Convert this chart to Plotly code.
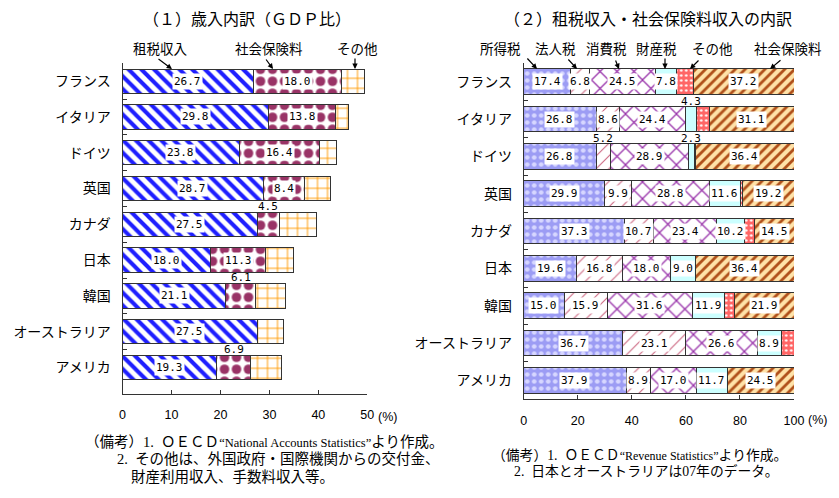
import plotly.graph_objects as go

# ---------------- data ----------------
countries = ["フランス", "イタリア", "ドイツ", "英国", "カナダ", "日本", "韓国", "オーストラリア", "アメリカ"]

# (1) 歳入内訳（GDP比, %）
rev_tax = [26.7, 29.8, 23.8, 28.7, 27.5, 18.0, 21.1, 27.5, 19.3]
rev_social = [18.0, 13.8, 16.4, 8.4, 4.5, 11.3, 6.1, 0.0, 6.9]
rev_other = [4.8, 2.5, 3.6, 5.3, 7.7, 5.6, 6.1, 5.4, 6.3]

# (2) 租税収入・社会保険料収入の内訳（構成比, %）
income_tax = [17.4, 26.8, 26.8, 29.9, 37.3, 19.6, 15.0, 36.7, 37.9]
corp_tax = [6.8, 8.6, 5.2, 9.9, 10.7, 16.8, 15.9, 23.1, 8.9]
consumption_tax = [24.5, 24.4, 28.9, 28.8, 23.4, 18.0, 31.6, 26.6, 17.0]
property_tax = [7.8, 4.3, 2.3, 11.6, 10.2, 9.0, 11.9, 8.9, 11.7]
other_tax = [6.3, 4.8, 0.4, 0.6, 3.9, 0.2, 3.7, 4.7, 0.0]
social_contrib = [37.2, 31.1, 36.4, 19.2, 14.5, 36.4, 21.9, 0.0, 24.5]

left_ticks = [0, 10, 20, 30, 40, 50]
right_ticks = [0, 20, 40, 60, 80, 100]

W, H = 839, 498
def px(x):
    return x / W
def py(y):
    return 1 - y / H

JP = "Noto Sans CJK JP"
NUM = "DejaVu Sans Mono"
EDGE = dict(color="#333333", width=1)

fig = go.Figure()

left_series = [
    ("租税収入", rev_tax, dict(shape="\\", fgcolor="#1f1fff", bgcolor="white", size=9, solidity=0.45), True),
    ("社会保険料", rev_social, dict(shape=".", fgcolor="#993366", bgcolor="white", size=12, solidity=0.5), True),
    ("その他", rev_other, dict(shape="+", fgcolor="#ff9900", bgcolor="white", size=10, solidity=0.18), False),
]
right_series = [
    ("所得税", income_tax, dict(shape=".", fgcolor="#d6d6ff", bgcolor="#9c9cf4", size=7, solidity=0.35), True),
    ("法人税", corp_tax, dict(shape="/", fgcolor="#cc6680", bgcolor="white", size=9, solidity=0.12), True),
    ("消費税", consumption_tax, dict(shape="x", fgcolor="#9933aa", bgcolor="white", size=12, solidity=0.2), True),
    ("財産税", property_tax, dict(shape="", fgcolor="#ccffff", bgcolor="#ccffff"), True),
    ("その他", other_tax, dict(shape=".", fgcolor="#ffffff", bgcolor="#ff6666", size=5, solidity=0.2), False),
    ("社会保険料", social_contrib, dict(shape="/", fgcolor="#b0501a", bgcolor="#ffe2a8", size=7, solidity=0.4), True),
]

annotations = []

def add_panel(series, xa, ya, bar_w, inside_min):
    cum = [0.0] * len(countries)
    for name, vals, pat, labelled in series:
        color = pat["bgcolor"]
        pattern = dict(pat)
        pattern["fillmode"] = "replace"
        fig.add_trace(go.Bar(
            name=name, x=vals, y=countries, orientation="h",
            xaxis=xa, yaxis=ya, width=bar_w,
            marker=dict(color=color, pattern=pattern, line=EDGE),
            showlegend=False, hoverinfo="x+y+name",
        ))
        for i, v in enumerate(vals):
            if labelled and v > 0:
                mid = cum[i] + v / 2
                if v >= inside_min:
                    annotations.append(dict(
                        x=mid, y=countries[i], xref=xa, yref=ya, text=f"{v:.1f}",
                        xanchor="center", yanchor="middle",
                        showarrow=False, bgcolor="white", borderpad=1,
                        font=dict(family=NUM, size=11, color="black")))
                else:
                    annotations.append(dict(
                        x=mid, y=countries[i], xref=xa, yref=ya, text=f"{v:.1f}",
                        xanchor="center", yanchor="middle",
                        showarrow=False, yshift=18,
                        font=dict(family=NUM, size=11, color="black")))
            cum[i] += v

add_panel(left_series, "x", "y", 0.68, 8)
add_panel(right_series, "x2", "y2", 0.69, 6)

def paper_text(x, y, text, size, family=JP, xanchor="center"):
    annotations.append(dict(x=px(x), y=py(y), xref="paper", yref="paper", text=text,
                            xanchor=xanchor, yanchor="middle", showarrow=False,
                            font=dict(family=family, size=size, color="black")))

# titles
paper_text(247, 18, "（１）歳入内訳（ＧＤＰ比）", 16)
paper_text(648, 18, "（２）租税収入・社会保険料収入の内訳", 16)

# legend callouts
callouts = [
    ("租税収入", 160, (157, 58), (172, 69)),
    ("社会保険料", 269, (265, 58), (273, 69)),
    ("その他", 357, (355, 57), (355, 69)),
    ("所得税", 500, (526, 57), (537, 69)),
    ("法人税", 555, (567, 58), (577, 69)),
    ("消費税", 606, (615, 59), (619, 69)),
    ("財産税", 656, (665, 57), (665, 69)),
    ("その他", 712, (700, 59), (690, 69)),
    ("社会保険料", 788, (782, 59), (770, 69)),
]
for txt, cx, tail, tip in callouts:
    paper_text(cx, 48, txt, 13.5)
    annotations.append(dict(x=px(tip[0]), y=py(tip[1]), xref="paper", yref="paper", text="",
                            showarrow=True, ax=tail[0] - tip[0], ay=tail[1] - tip[1],
                            arrowhead=2, arrowsize=0.9, arrowwidth=1.2, arrowcolor="black"))

# (%) unit labels
paper_text(376, 417, "(%)", 12.5, family="Liberation Sans", xanchor="left")
paper_text(806, 420, "(%)", 12.5, family="Liberation Sans", xanchor="left")

# notes
NOTE = "Liberation Serif, " + JP
paper_text(83, 442, "（備考）1.  ＯＥＣＤ<span style=\"font-size:12.5px\">“National Accounts Statistics”</span>より作成。",
           14.5, NOTE, "left")
paper_text(115, 459, "2.  その他は、外国政府・国際機関からの交付金、", 14.5, NOTE, "left")
paper_text(129, 476, "財産利用収入、手数料収入等。", 14.5, NOTE, "left")
paper_text(490, 455, "（備考）1.  ＯＥＣＤ<span style=\"font-size:12px\">“Revenue Statistics”</span>より作成。", 13.8, NOTE, "left")
paper_text(512, 471, "2.  日本とオーストラリアは07年のデータ。", 13.8, NOTE, "left")

def xaxis(domain, rng, ticks, anchor, standoff):
    return dict(domain=domain, range=rng, tickvals=ticks, ticktext=[str(t) for t in ticks],
                ticks="inside", ticklen=4, tickcolor="#333", showline=True, linecolor="#333", linewidth=1,
                showgrid=False, zeroline=False, anchor=anchor, fixedrange=True, automargin=False,
                ticklabelstandoff=standoff,
                tickfont=dict(family="Liberation Sans", size=12.5, color="black"))

def yaxis(domain, anchor):
    return dict(domain=domain, type="category", categoryorder="array", categoryarray=countries,
                autorange="reversed", ticks="inside", tickson="boundaries", ticklen=4, tickcolor="#333",
                showline=True, linecolor="#333", linewidth=1, showgrid=False, zeroline=False,
                anchor=anchor, fixedrange=True, ticklabelstandoff=8, automargin=False,
                tickfont=dict(family=JP, size=14, color="black"))

fig.update_layout(
    width=W, height=H, margin=dict(l=0, r=0, t=0, b=0, autoexpand=False),
    paper_bgcolor="white", plot_bgcolor="white", barmode="stack", bargap=0.3,
    xaxis=xaxis([px(122.5), px(367.3)], [0, 50], left_ticks, "y", 9),
    yaxis=yaxis([py(394), py(63.3)], "x"),
    xaxis2=xaxis([px(523.7), px(794)], [0, 100], right_ticks, "y2", 10),
    yaxis2=yaxis([py(399), py(63)], "x2"),
    annotations=annotations,
    showlegend=False,
)

fig.write_html("out.html")
